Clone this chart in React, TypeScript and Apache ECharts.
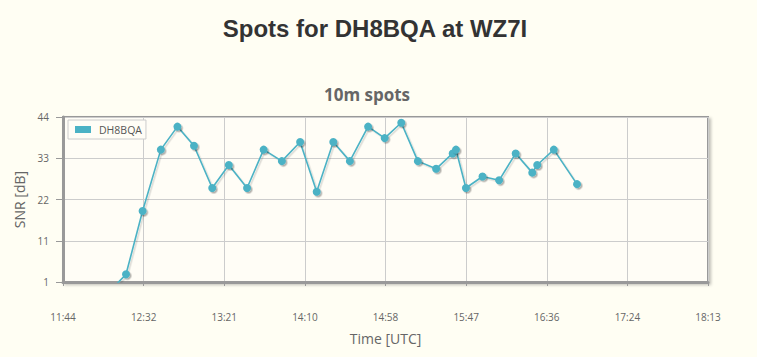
import React, { useEffect, useRef } from "react";
import * as echarts from "echarts";

// ---- data ----
const chartTitle = "Spots for DH8BQA at WZ7I";
const chartSubtitle = "10m spots";
const seriesName = "DH8BQA";
const xAxisName = "Time [UTC]";
const yAxisName = "SNR [dB]";

const xTickLabels = ["11:44", "12:32", "13:21", "14:10", "14:58", "15:47", "16:36", "17:24", "18:13"];
const yTickLabels = ["1", "11", "22", "33", "44"];
const Y_MIN = 1;
const Y_MAX = 44;

const spotTimes = [
  "11:44", "12:22", "12:32", "12:43", "12:53", "13:03", "13:14", "13:24", "13:35", "13:45",
  "13:56", "14:07", "14:17", "14:27", "14:37", "14:48", "14:58", "15:08", "15:18", "15:29",
  "15:39", "15:41", "15:47", "15:57", "16:07", "16:17", "16:27", "16:30", "16:40", "16:54",
];
const spotSnr = [
  -14, 3, 19.5, 35.5, 41.5, 36.5, 25.5, 31.5, 25.5, 35.5,
  32.5, 37.5, 24.5, 37.5, 32.5, 41.5, 38.5, 42.5, 32.5, 30.5,
  34.5, 35.5, 25.5, 28.5, 27.5, 34.5, 29.5, 31.5, 35.5, 26.5,
];

const toMin = (t: string) => {
  const [h, m] = t.split(":").map(Number);
  return h * 60 + m;
};

export default function App() {
  const ref = useRef<HTMLDivElement>(null);

  useEffect(() => {
    if (!ref.current) return;
    const chart = echarts.init(ref.current, undefined, { renderer: "svg" });

    const start = toMin(xTickLabels[0]);
    const span = toMin(xTickLabels[xTickLabels.length - 1]) - start;
    const xInterval = span / (xTickLabels.length - 1);
    const ySpan = Y_MAX - Y_MIN;
    const yInterval = ySpan / (yTickLabels.length - 1);

    const data = spotTimes.map((t, i) => [toMin(t) - start, spotSnr[i] - Y_MIN]);

    const teal = "#4bb2c5";
    const grey = "#666666";

    chart.setOption({
      animation: false,
      backgroundColor: "#fffef3",
      graphic: [
        {
          type: "text",
          x: 375,
          y: 28,
          style: {
            text: chartTitle,
            fill: "#333333",
            font: 'bold 24px "Liberation Sans", Arial, sans-serif',
            align: "center",
            verticalAlign: "middle",
          },
        },
        {
          type: "text",
          x: 367,
          y: 94,
          style: {
            text: chartSubtitle,
            fill: grey,
            font: 'bold 17px "Open Sans", sans-serif',
            align: "center",
            verticalAlign: "middle",
          },
        },
      ],
      legend: {
        left: 68,
        top: 120,
        orient: "vertical",
        icon: "rect",
        itemWidth: 16,
        itemHeight: 7,
        padding: [4, 4, 4, 7],
        backgroundColor: "#fffdf6",
        borderColor: "#cccccc",
        borderWidth: 1,
        borderRadius: 0,
        textStyle: {
          color: "#555555",
          fontSize: 10.5,
          fontFamily: '"Open Sans", sans-serif',
          padding: [0, 0, 0, 3],
        },
        data: [seriesName],
      },
      grid: {
        left: 63,
        right: 49,
        top: 117,
        bottom: 75,
        show: true,
        backgroundColor: "#fffdf6",
        borderColor: "#999999",
        borderWidth: 2,
        shadowColor: "rgba(0,0,0,0.25)",
        shadowBlur: 3,
        shadowOffsetX: 2,
        shadowOffsetY: 2,
      },
      xAxis: {
        type: "value",
        min: 0,
        max: span,
        interval: xInterval,
        name: xAxisName,
        nameLocation: "middle",
        nameGap: 49,
        nameTextStyle: { color: grey, fontSize: 14, fontFamily: '"Open Sans", sans-serif' },
        axisLine: { show: true, lineStyle: { color: "#999999", width: 3 } },
        axisTick: { show: true, length: 4, lineStyle: { color: "#999999" } },
        axisLabel: {
          margin: 30,
          color: grey,
          fontSize: 10,
          fontFamily: '"Open Sans", sans-serif',
          formatter: (v: number) => xTickLabels[Math.round(v / xInterval)] ?? "",
        },
        splitLine: { show: true, lineStyle: { color: "#cccccc", width: 1 } },
      },
      yAxis: {
        type: "value",
        min: 0,
        max: ySpan,
        interval: yInterval,
        name: yAxisName,
        nameLocation: "middle",
        nameGap: 30,
        nameTextStyle: { color: grey, fontSize: 14, fontFamily: '"Open Sans", sans-serif' },
        axisLine: { show: true, lineStyle: { color: "#999999", width: 3 } },
        axisTick: { show: true, length: 7, lineStyle: { color: "#999999" } },
        axisLabel: {
          margin: 14,
          color: grey,
          fontSize: 10,
          fontFamily: '"Open Sans", sans-serif',
          formatter: (v: number) => yTickLabels[Math.round(v / yInterval)] ?? "",
        },
        splitLine: { show: true, lineStyle: { color: "#cccccc", width: 1 } },
      },
      series: [
        {
          name: seriesName,
          type: "line",
          data,
          clip: true,
          symbol: "circle",
          symbolSize: 8,
          color: teal,
          lineStyle: {
            color: teal,
            width: 1.6,
            shadowColor: "rgba(0,0,0,0.15)",
            shadowBlur: 1,
            shadowOffsetX: 1.5,
            shadowOffsetY: 1.5,
          },
          itemStyle: {
            color: teal,
            shadowColor: "rgba(0,0,0,0.3)",
            shadowBlur: 1.5,
            shadowOffsetX: 1.5,
            shadowOffsetY: 1.5,
          },
        },
      ],
    });

    return () => chart.dispose();
  }, []);

  return (
    <div
      ref={ref}
      style={{ position: "fixed", left: 0, top: 0, width: 757, height: 357 }}
    />
  );
}
